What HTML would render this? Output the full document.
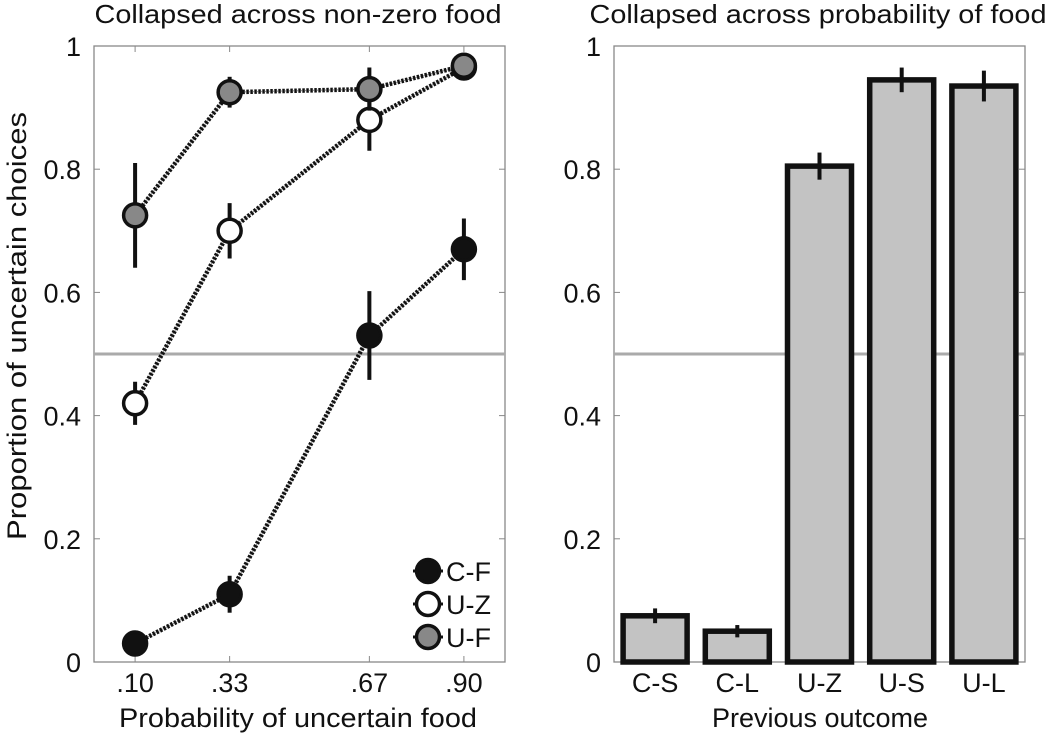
<!DOCTYPE html>
<html><head><meta charset="utf-8"><style>
body{margin:0;background:#fff}
svg text{font-family:"Liberation Sans",Arial,sans-serif;fill:#111}
</style></head><body>
<svg id="c" width="1050" height="738" xmlns="http://www.w3.org/2000/svg"></svg>
<script>
const probs=[0.10,0.33,0.67,0.90];
const probLabels=[".10",".33",".67",".90"];
const cfVals=[0.03,0.11,0.53,0.67];
const cfErr=[0.015,0.03,0.072,0.05];
const uzVals=[0.42,0.70,0.88,0.965];
const uzErr=[0.035,0.045,0.05,0.01];
const ufVals=[0.725,0.925,0.93,0.968];
const ufErr=[0.085,0.025,0.035,0.01];
const barCats=["C-S","C-L","U-Z","U-S","U-L"];
const barVals=[0.075,0.05,0.805,0.945,0.935];
const barErr=[0.012,0.01,0.022,0.02,0.025];
const yTicks=[0,0.2,0.4,0.6,0.8,1];
const yTickLabels=["0","0.2","0.4","0.6","0.8","1"];

const svg=document.getElementById('c');
const NS='http://www.w3.org/2000/svg';
function mk(tag,attrs,parent){const e=document.createElementNS(NS,tag);for(const k in attrs)e.setAttribute(k,attrs[k]);(parent||svg).appendChild(e);return e;}
const yTop=46,yBot=662;
const y=v=>yBot-(yBot-yTop)*v;
const L={x0:94,x1:505};
const xL=p=>L.x0+(L.x1-L.x0)*p;
const R={x0:614,x1:1025};
const xR=i=>R.x0+(R.x1-R.x0)*(i+0.5)/5;

function axes(x0,x1,name){
  const g=mk('g',{});
  
  
  mk('rect',{x:x0,y:yTop,width:x1-x0,height:yBot-yTop,fill:'none',stroke:'#888','stroke-width':1.3},g);
  yTicks.forEach((t,i)=>{
    mk('line',{x1:x0,x2:x0+6,y1:y(t),y2:y(t),stroke:'#888'},g);
    mk('line',{x1:x1,x2:x1-6,y1:y(t),y2:y(t),stroke:'#888'},g);
    const tx=mk('text',{x:x0-13,y:y(t)+10,'text-anchor':'end','font-size':27},g);
    
    
    tx.textContent=yTickLabels[i];
  });
  const h=mk('line',{x1:x0,x2:x1,y1:y(0.5),y2:y(0.5),stroke:'#aaa','stroke-width':3},g);
  
  
  return g;
}
// Left panel
const gl=axes(L.x0,L.x1,'left-axes');
probs.forEach((p,i)=>{
  mk('line',{x1:xL(p),x2:xL(p),y1:yBot,y2:yBot-6,stroke:'#888'},gl);
  mk('line',{x1:xL(p),x2:xL(p),y1:yTop,y2:yTop+6,stroke:'#888'},gl);
  const t=mk('text',{x:xL(p),y:yBot+30,'text-anchor':'middle','font-size':27});
  
  
  t.textContent=probLabels[i];
});
function series(vals,errs,fill,name){
  const g=mk('g',{});
  
  
  const pts=vals.map((v,i)=>xL(probs[i])+','+y(v)).join(' ');
  mk('polyline',{points:pts,fill:'none',stroke:'#111','stroke-width':4.5,'stroke-dasharray':'2.5 1.5'},g);
  mk('polyline',{points:pts,fill:'none',stroke:'#999','stroke-width':1.2,'stroke-dasharray':'1.5 2.5','stroke-dashoffset':'-2.5'},g);
  vals.forEach((v,i)=>{
    mk('line',{x1:xL(probs[i]),x2:xL(probs[i]),y1:y(v-errs[i]),y2:y(v+errs[i]),stroke:'#111','stroke-width':4},g);
    const c=mk('circle',{cx:xL(probs[i]),cy:y(v),r:11.5,fill:fill,stroke:'#111','stroke-width':3.5},g);
    
    
  });
}
series(cfVals,cfErr,'#111','series-c-f');
series(uzVals,uzErr,'#fff','series-u-z');
series(ufVals,ufErr,'#888','series-u-f');
// legend
const lg=mk('g',{});


[['C-F','#111',571],['U-Z','#fff',604],['U-F','#888',637]].forEach(([lab,f,yy])=>{
  const e=mk('g',{},lg);
  
  
  mk('line',{x1:413,x2:443,y1:yy,y2:yy,stroke:'#111','stroke-width':3,'stroke-dasharray':'2 1.5'},e);
  mk('circle',{cx:428,cy:yy,r:11.5,fill:f,stroke:'#111','stroke-width':3.5},e);
  const t=mk('text',{x:446,y:yy+10,'font-size':27},e);t.textContent=lab;
});
let t=mk('text',{x:298,y:23,'text-anchor':'middle','font-size':26,textLength:407,lengthAdjust:'spacingAndGlyphs'});

t.textContent='Collapsed across non-zero food';
t=mk('text',{x:298,y:727,'text-anchor':'middle','font-size':27,textLength:358,lengthAdjust:'spacingAndGlyphs'});

t.textContent='Probability of uncertain food';
t=mk('text',{x:0,y:0,'text-anchor':'middle','font-size':27,textLength:428,lengthAdjust:'spacingAndGlyphs',transform:'translate(26,326) rotate(-90)'});

t.textContent='Proportion of uncertain choices';

// Right panel
const gr=axes(R.x0,R.x1,'right-axes');
const bw=64;
barCats.forEach((c,i)=>{
  const v=barVals[i];
  const b=mk('rect',{x:xR(i)-bw/2,y:y(v),width:bw,height:y(0)-y(v),fill:'#c3c3c3',stroke:'#111','stroke-width':5.5});
  
  
  const e=mk('line',{x1:xR(i),x2:xR(i),y1:y(v-barErr[i]),y2:y(v+barErr[i]),stroke:'#111','stroke-width':4});
  
  
  const tx=mk('text',{x:xR(i),y:yBot+30,'text-anchor':'middle','font-size':27});
  
  
  tx.textContent=c;
});
t=mk('text',{x:818,y:23,'text-anchor':'middle','font-size':26,textLength:457,lengthAdjust:'spacingAndGlyphs'});

t.textContent='Collapsed across probability of food';
t=mk('text',{x:820,y:727,'text-anchor':'middle','font-size':27});

t.textContent='Previous outcome';
</script>
</body></html>
